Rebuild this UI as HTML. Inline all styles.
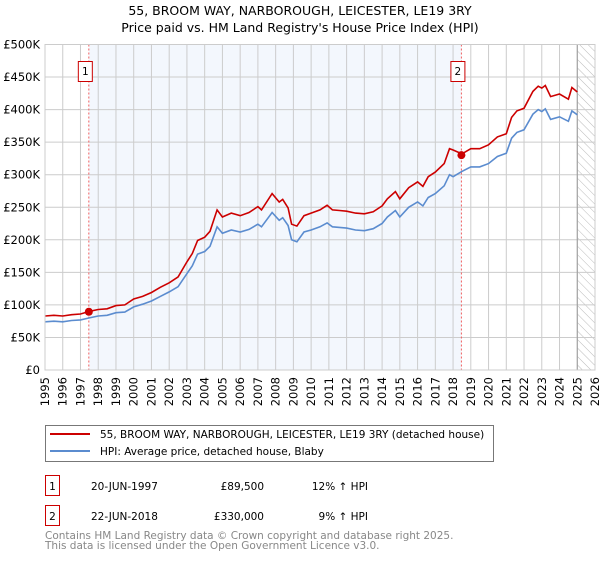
<!DOCTYPE html>
<html><head><meta charset="utf-8"><style>
body{margin:0;background:#fff;font-family:"DejaVu Sans","Liberation Sans",sans-serif;}
svg text{font-family:"DejaVu Sans","Liberation Sans",sans-serif;}
</style></head><body>
<svg id="chart" width="600" height="560">
<defs><pattern id="hatch" width="6" height="6" patternUnits="userSpaceOnUse" patternTransform="rotate(-45)"><line x1="0" y1="0" x2="0" y2="6" stroke="#bbb" stroke-width="1"/></pattern></defs>
<text x="300" y="15" text-anchor="middle" font-size="12.5">55, BROOM WAY, NARBOROUGH, LEICESTER, LE19 3RY</text>
<text x="300" y="32" text-anchor="middle" font-size="12.5">Price paid vs. HM Land Registry's House Price Index (HPI)</text>
<g id="plot"></g>
<g>
<rect x="45.5" y="425.5" width="448" height="36" fill="#fff" stroke="#777"/>
<line x1="50" y1="434" x2="90" y2="434" stroke="#cc0000" stroke-width="2"/>
<text x="100" y="438" font-size="10.5">55, BROOM WAY, NARBOROUGH, LEICESTER, LE19 3RY (detached house)</text>
<line x1="50" y1="451" x2="90" y2="451" stroke="#5b8ccf" stroke-width="2"/>
<text x="100" y="455" font-size="10.5">HPI: Average price, detached house, Blaby</text>
</g>
<g font-size="10.5">
<rect x="45.5" y="475.5" width="14" height="20" fill="#fff" stroke="#cc0000"/>
<text x="52.5" y="490" text-anchor="middle">1</text>
<text x="91" y="490">20-JUN-1997</text>
<text x="264" y="490" text-anchor="end">£89,500</text>
<text x="368" y="490" text-anchor="end">12% ↑ HPI</text>
<rect x="45.5" y="505.5" width="14" height="20" fill="#fff" stroke="#cc0000"/>
<text x="52.5" y="520" text-anchor="middle">2</text>
<text x="91" y="520">22-JUN-2018</text>
<text x="264" y="520" text-anchor="end">£330,000</text>
<text x="368" y="520" text-anchor="end">9% ↑ HPI</text>
</g>
<text x="45" y="539" font-size="10.5" fill="#888">Contains HM Land Registry data © Crown copyright and database right 2025.</text>
<text x="45" y="549" font-size="10.5" fill="#888">This data is licensed under the Open Government Licence v3.0.</text>
</svg>
<script>
const years=[1995,1995.5,1996,1996.5,1997,1997.5,1998,1998.5,1999,1999.5,2000,2000.5,2001,2001.5,2002,2002.5,2003,2003.3,2003.6,2004,2004.3,2004.7,2005,2005.5,2006,2006.5,2007,2007.2,2007.8,2008.2,2008.4,2008.7,2008.9,2009.2,2009.6,2010,2010.5,2010.9,2011.2,2011.6,2012,2012.5,2013,2013.5,2014,2014.3,2014.75,2015,2015.5,2016,2016.3,2016.6,2017,2017.5,2017.8,2018,2018.5,2019,2019.5,2020,2020.5,2021,2021.3,2021.6,2022,2022.5,2022.8,2023,2023.2,2023.5,2024,2024.5,2024.7,2025];
const hpiValues=[74,75,74,76,77,80,83,84,88,89,97,101,106,113,120,128,148,160,178,182,190,220,210,215,212,216,224,220,242,230,234,222,200,197,212,215,220,226,220,219,218,215,214,217,225,235,245,235,250,258,252,265,271,283,300,297,305,312,312,317,328,333,356,365,369,393,400,397,401,385,389,382,398,392];
const propertyValues=[83,84,83,85,86,90,93,94,99,100,109,113,119,127,134,143,166,179,199,204,213,246,235,241,237,242,251,246,271,258,262,249,224,221,237,241,246,253,246,245,244,241,240,243,252,263,274,263,280,289,282,297,304,317,340,338,332,340,340,346,358,363,388,398,402,428,436,433,437,420,424,416,434,427];
const saleYears=[1997.47,2018.47];
const salePrices=[89.5,330];
const saleLabels=["1","2"];
const yTicks=[0,50,100,150,200,250,300,350,400,450,500];
const yTickLabels=["£0","£50K","£100K","£150K","£200K","£250K","£300K","£350K","£400K","£450K","£500K"];
const xTicks=[1995,1996,1997,1998,1999,2000,2001,2002,2003,2004,2005,2006,2007,2008,2009,2010,2011,2012,2013,2014,2015,2016,2017,2018,2019,2020,2021,2022,2023,2024,2025,2026];

const L=45,R=595,T=44.5,B=370;
const xs=y=>L+(y-1995)/(2026-1995)*(R-L);
const ys=v=>B-v/500*(B-T);
const NS="http://www.w3.org/2000/svg";
const g=document.getElementById('plot');
function mk(tag,attrs,parent){const e=document.createElementNS(NS,tag);for(const k in attrs)e.setAttribute(k,attrs[k]);(parent||g).appendChild(e);return e;}

let e=mk('rect',{x:xs(saleYears[0]),y:T,width:xs(saleYears[1])-xs(saleYears[0]),height:B-T,fill:'#eef3fc',opacity:0.7});


e=mk('rect',{x:xs(2025),y:T,width:R-xs(2025),height:B-T,fill:'url(#hatch)'});


yTicks.forEach((v,i)=>{
  let l=mk('line',{x1:L,x2:R,y1:ys(v),y2:ys(v),stroke:'#ccc','stroke-width':1});
  
  
  let t=mk('text',{x:L-5,y:ys(v)+4,'text-anchor':'end','font-size':11.5});
  t.textContent=yTickLabels[i];
  
  
});
xTicks.forEach(y=>{
  let l=mk('line',{x1:xs(y),x2:xs(y),y1:T,y2:B,stroke:'#ccc','stroke-width':1});
  
  
  let t=mk('text',{x:0,y:0,'text-anchor':'end','font-size':11.5,transform:`translate(${xs(y)+4},${B+7}) rotate(-90)`});
  t.textContent=y;
  
  
});
e=mk('line',{x1:xs(2025),x2:xs(2025),y1:T,y2:B,stroke:'#999','stroke-width':1});


saleYears.forEach((y,i)=>{
  let l=mk('line',{x1:xs(y),x2:xs(y),y1:T,y2:B,stroke:'#f06060','stroke-width':1,'stroke-dasharray':'2,2'});
  
  
  let r=mk('rect',{x:xs(y)-10.5,y:61.5,width:14,height:20,fill:'#fff',stroke:'#cc0000'});
  
  
  let t=mk('text',{x:xs(y)-3.5,y:75,'text-anchor':'middle','font-size':10.5});
  t.textContent=saleLabels[i];
  
  
});
const pts=a=>a.map((v,i)=>xs(years[i]).toFixed(1)+','+ys(v).toFixed(1)).join(' ');
e=mk('polyline',{points:pts(hpiValues),fill:'none',stroke:'#5b8ccf','stroke-width':1.6});


e=mk('polyline',{points:pts(propertyValues),fill:'none',stroke:'#cc0000','stroke-width':1.6});


saleYears.forEach((y,i)=>{
  let c=mk('circle',{cx:xs(y),cy:ys(salePrices[i]),r:4,fill:'#cc0000'});
  
  
});
e=mk('rect',{x:L,y:T,width:R-L,height:B-T,fill:'none',stroke:'#ccc'});


</script>
</body></html>
